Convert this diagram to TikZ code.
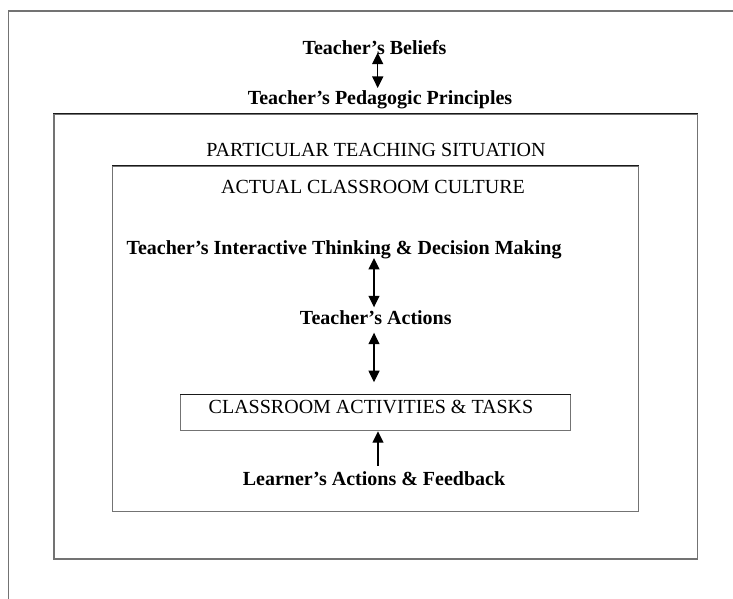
\documentclass[tikz,border=0pt]{standalone}
\usepackage{fontspec}
\setmainfont{Liberation Serif}
\usetikzlibrary{arrows.meta}
\definecolor{framegray}{gray}{0.45}
\tikzset{
  x=1pt, y=1pt,
  boldlabel/.style={inner sep=0pt, anchor=base, font=\fontsize{20}{24}\selectfont\bfseries},
  plainlabel/.style={inner sep=0pt, anchor=base, font=\fontsize{20}{24}\selectfont},
  boxline/.style={draw=framegray, line width=1.1pt, inner sep=0pt},
  topline/.style={draw=black!90, line width=1.1pt},
  dbl/.style={line width=1.3pt, {Triangle[width=11pt,length=11.5pt]}-{Triangle[width=11pt,length=11.5pt]}},
  sgl/.style={line width=1.3pt, -{Triangle[width=11pt,length=11.5pt]}}
}
\begin{document}
\begin{tikzpicture}
\useasboundingbox (0,0) rectangle (733,599);
\fill[white] (0,0) rectangle (733,599);
% outer frame (open at right and bottom)
\draw[draw=framegray, line width=1.4pt] (8.5,-5) -- (8.5,588) -- (740,588);
% particular teaching situation box
\node[boxline, minimum width=643.7pt, minimum height=444.7pt] (situation) at (375.85,262.35) {};
\draw[topline] (situation.north west) -- (situation.north east);
% actual classroom culture box
\node[boxline, minimum width=526pt, minimum height=345pt] (culture) at (375.7,260.2) {};
\draw[topline] (culture.north west) -- (culture.north east);
% texts
\node[boldlabel] (beliefs) at (374.5,544) {Teacher’s Beliefs};
\node[boldlabel] (ped) at (380,494) {Teacher’s Pedagogic Principles};
\node[plainlabel] (partic) at (376,442.3) {PARTICULAR TEACHING SITUATION};
\node[plainlabel] (actual) at (373,405) {ACTUAL CLASSROOM CULTURE};
\node[boldlabel] (think) at (344,344) {Teacher’s Interactive Thinking \& Decision Making};
\node[boldlabel] (act) at (375.8,274) {Teacher’s Actions};
\node[boxline, draw=framegray, anchor=base, minimum width=389.6pt, text height=19.3pt, text depth=16.7pt,
      font=\fontsize{20}{24}\selectfont] (tasks) at (375.5,185) {CLASSROOM ACTIVITIES \& TASKS\hspace*{9pt}};
\draw[topline] (tasks.north west) -- (tasks.north east);
\node[boldlabel] (learner) at (374,113) {Learner’s Actions \& Feedback};
% connectors
\draw[dbl] ([xshift=3.2pt,yshift=2.3pt]beliefs.base) -- ([xshift=-2.3pt,yshift=17pt]ped.base);
\draw[dbl] ([xshift=30pt,yshift=-3pt]think.base) -- ([xshift=-1.8pt,yshift=17.7pt]act.base);
\draw[dbl] ([xshift=-1.8pt,yshift=-7.7pt]act.base) -- ([xshift=-1.5pt,yshift=12pt]tasks.north);
\draw[sgl] ([xshift=4pt,yshift=20pt]learner.base) -- ([xshift=2.5pt]tasks.south);
\end{tikzpicture}
\end{document}
